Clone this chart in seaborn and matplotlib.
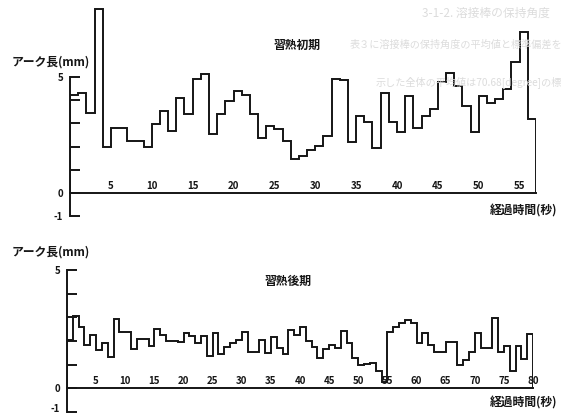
import numpy as np
import pandas as pd
import matplotlib
matplotlib.use("Agg")
import matplotlib.pyplot as plt
import matplotlib.transforms as mtransforms
import seaborn as sns

# アーク長 (mm) — 1 秒ごとの平均値
early_arc = [4.21, 4.29, 3.43, 7.93, 2.00, 2.81, 2.81, 2.24, 2.24, 2.00,
             2.96, 3.53, 2.67, 4.11, 3.39, 4.90, 5.11, 2.53, 3.39, 3.96,
             4.40, 4.24, 3.39, 2.39, 2.90, 2.75, 2.23, 1.47, 1.61, 1.86,
             2.04, 2.47, 4.93, 4.86, 2.21, 3.33, 3.04, 1.93, 4.33, 3.04,
             2.61, 4.19, 2.79, 3.31, 3.61, 4.79, 5.19, 4.61, 3.76, 2.61,
             4.19, 3.90, 4.04, 4.47, 5.64, 6.93, 3.19]

late_arc = [2.05, 3.07, 2.57, 1.83, 2.27, 1.60, 1.90, 1.33, 2.93, 2.40,
            2.40, 1.64, 2.07, 2.07, 1.79, 2.52, 2.24, 2.00, 2.00, 1.96,
            2.34, 2.21, 1.90, 2.20, 1.36, 2.34, 1.44, 1.76, 1.93, 2.03,
            2.40, 1.53, 1.53, 2.03, 1.48, 2.17, 1.71, 1.43, 2.45, 2.25,
            2.61, 2.00, 1.75, 1.26, 1.68, 1.85, 1.70, 2.43, 1.90, 1.29,
            1.00, 1.03, 1.07, 0.75, 0.25, 2.36, 2.57, 2.76, 2.90, 2.77,
            1.90, 2.34, 1.84, 1.55, 1.55, 1.97, 1.97, 1.00, 1.18, 1.53,
            2.32, 1.72, 1.72, 2.98, 1.53, 1.78, 0.74, 1.77, 1.24, 2.29]

early_xticks = [5, 10, 15, 20, 25, 30, 35, 40, 45, 50, 55]
late_xticks = [5, 10, 15, 20, 25, 30, 35, 40, 45, 50, 55, 60, 65, 70, 75, 80]
y_ticks = [-1, 0, 1, 2, 3, 4, 5]
y_ticklabels = ["-1", "0", "", "", "", "", "5"]

y_label = "アーク長(mm)"
x_label = "経過時間(秒)"
early_title = "習熟初期"
late_title = "習熟後期"

INK = "#151515"
W, H = 564, 413

sns.set_theme(style="white")
plt.rcParams["font.family"] = ["Noto Sans CJK JP", "DejaVu Sans"]
plt.rcParams["font.weight"] = "bold"


def step_frame(values):
    """Outline of 1-second bins: rise from the axis, steps, drop back to 0."""
    v = np.asarray(values, dtype=float)
    edges = np.arange(len(v) + 1)
    x = np.concatenate([[0], edges])
    y = np.concatenate([[0], v, [0]])
    return pd.DataFrame({"t": x, "arc": y})


def px_axes(fig, left, right, y_low_px, y_high_px):
    """Axes placed by pixel edges (y measured from the top of the figure)."""
    return fig.add_axes([left / W, (H - y_low_px) / H,
                         (right - left) / W, (y_low_px - y_high_px) / H])


def style_axes(ax, xmax, xticks, lift_bottom_label=0):
    ax.set_xlim(0, xmax)
    ax.patch.set_alpha(0)
    for s in ("top", "right"):
        ax.spines[s].set_visible(False)
    ax.spines["left"].set_bounds(-1, 5)
    ax.spines["bottom"].set_position(("data", 0))
    ax.spines["bottom"].set_bounds(0, xmax)
    for s in ("left", "bottom"):
        ax.spines[s].set_color(INK)
        ax.spines[s].set_linewidth(1.4)
    ax.set_yticks(y_ticks)
    ax.set_yticklabels(y_ticklabels)
    ax.tick_params(axis="y", direction="in", length=7, width=1.4,
                   pad=5, labelsize=7, colors=INK, left=True)
    ax.set_xticks(xticks)
    ax.set_xticklabels([str(v) for v in xticks])
    ax.tick_params(axis="x", direction="in", length=0, pad=-8.5,
                   labelsize=7, colors=INK, bottom=True)
    for lbl in ax.get_xticklabels() + ax.get_yticklabels():
        lbl.set_fontweight("bold")
    if lift_bottom_label:
        lbl = ax.get_yticklabels()[0]
        lbl.set_transform(lbl.get_transform() + mtransforms.ScaledTranslation(
            0, lift_bottom_label / 100, ax.figure.dpi_scale_trans))
    ax.set_xlabel("")
    ax.set_ylabel("")
    ax.grid(False)


fig = plt.figure(figsize=(W / 100, H / 100), dpi=100, facecolor="white")

# faint print showing through from the facing page
ghost = dict(color="#dcdcdc", fontweight="normal", ha="right", va="center", zorder=0)
fig.text(550 / W, 1 - 13 / H, "3-1-2. 溶接棒の保持角度", fontsize=8.5, **ghost)
fig.text(562 / W, 1 - 45 / H, "表３に溶接棒の保持角度の平均値と標準偏差を", fontsize=7.3, **ghost)
fig.text(562 / W, 1 - 82 / H, "示した全体の平均値は70.68[degree]の標", fontsize=7.3, **ghost)

# 習熟初期: 0 s at x=70 px, 57 s at x=536 px; y=0 at 193 px, 23.2 px per mm
ax1 = px_axes(fig, 70, 536, 193 + 1.0 * 23.2, 193 - 8.3 * 23.2)
ax1.set_ylim(-1, 8.3)
sns.lineplot(data=step_frame(early_arc), x="t", y="arc", ax=ax1,
             estimator=None, sort=False, drawstyle="steps-post",
             color=INK, linewidth=1.4, solid_joinstyle="miter")
style_axes(ax1, len(early_arc), early_xticks)

# 習熟後期: 0 s at x=67 px, 80 s at x=533 px; y=0 at 388.3 px, 23.66 px per mm
ax2 = px_axes(fig, 67, 533, 388.3 + 1.02 * 23.66, 388.3 - 5.3 * 23.66)
ax2.set_ylim(-1.02, 5.3)
sns.lineplot(data=step_frame(late_arc), x="t", y="arc", ax=ax2,
             estimator=None, sort=False, drawstyle="steps-post",
             color=INK, linewidth=1.4, solid_joinstyle="miter")
style_axes(ax2, len(late_arc), late_xticks, lift_bottom_label=4)

label_kw = dict(color=INK, fontsize=8.5, fontweight="bold")
fig.text(12 / W, 1 - 62 / H, y_label, ha="left", va="center", **label_kw)
fig.text(297 / W, 1 - 45 / H, early_title, ha="center", va="center", **label_kw)
fig.text(557 / W, 1 - 211 / H, x_label, ha="right", va="center", **label_kw)

fig.text(12 / W, 1 - 252 / H, y_label, ha="left", va="center", **label_kw)
fig.text(288 / W, 1 - 281 / H, late_title, ha="center", va="center", **label_kw)
fig.text(557 / W, 1 - 403 / H, x_label, ha="right", va="center", **label_kw)

fig.savefig("out.png", dpi=100, facecolor="white")
